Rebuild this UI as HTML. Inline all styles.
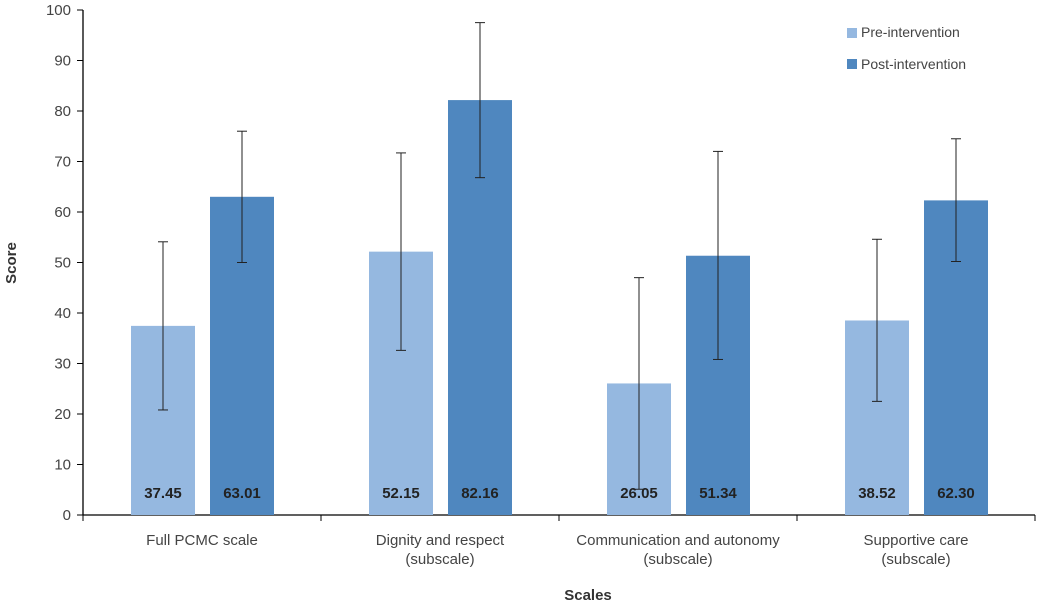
<!DOCTYPE html>
<html><head><meta charset="utf-8"><style>
body{margin:0;background:#fff;}
svg text{font-family:"Liberation Sans",sans-serif;}
</style></head><body>
<svg id="chart" width="1053" height="609" viewBox="0 0 1053 609">
<g id="axes"></g><g id="bars"></g>
<text x="588" y="600" font-size="15" font-weight="bold" fill="#333" text-anchor="middle">Scales</text>
<text transform="translate(16,263) rotate(-90)" font-size="15" font-weight="bold" fill="#333" text-anchor="middle">Score</text>
<g>
<rect x="847" y="28" width="10" height="10" fill="#95b8e0"/>
<text x="861" y="37" font-size="14" fill="#444">Pre-intervention</text>
<rect x="847" y="59" width="10" height="10" fill="#4f87bf"/>
<text x="861" y="69" font-size="14" fill="#444">Post-intervention</text>
</g>
</svg>
<script>
const categories=[["Full PCMC scale"],["Dignity and respect","(subscale)"],["Communication and autonomy","(subscale)"],["Supportive care","(subscale)"]];
const preValues=[37.45,52.15,26.05,38.52];
const postValues=[63.01,82.16,51.34,62.30];
const preLow=[20.8,32.6,5.1,22.5];
const preHigh=[54.1,71.7,47.0,54.6];
const postLow=[50.0,66.8,30.8,50.2];
const postHigh=[76.0,97.5,72.0,74.5];
const yTicks=[0,10,20,30,40,50,60,70,80,90,100];
const NS="http://www.w3.org/2000/svg";
const x0=83,x1=1035,y0=515,y1=10;
const catW=(x1-x0)/categories.length;
const y=v=>y0-(v/100)*(y0-y1);
function mk(tag,attrs,parent,txt){const e=document.createElementNS(NS,tag);for(const k in attrs)e.setAttribute(k,attrs[k]);if(txt!==undefined)e.textContent=txt;parent.appendChild(e);return e;}
const ax=document.getElementById('axes'),bg=document.getElementById('bars');
let e=mk('line',{x1:x0,y1:y1,x2:x0,y2:y0,stroke:'#000','stroke-width':1.3},ax);


e=mk('line',{x1:x0,y1:y0,x2:x1,y2:y0,stroke:'#000','stroke-width':1.3},ax);


yTicks.forEach(t=>{
 mk('line',{x1:x0-6,y1:y(t),x2:x0,y2:y(t),stroke:'#000'},ax);
 const l=mk('text',{x:x0-12,y:y(t)+5,'font-size':15,fill:'#444','text-anchor':'end'},ax,t);
 
 
});
for(let i=0;i<=categories.length;i++)mk('line',{x1:x0+i*catW,y1:y0,x2:x0+i*catW,y2:y0+6,stroke:'#000'},ax);
function bar(cx,v,lo,hi,fill,name){
 const r=mk('rect',{x:cx,y:y(v),width:64,height:y0-y(v),fill:fill},bg);
 
 
 const m=cx+32;
 const g=mk('g',{stroke:'#222','stroke-width':1},bg);
 
 
 mk('line',{x1:m,y1:y(lo),x2:m,y2:y(hi)},g);
 mk('line',{x1:m-5,y1:y(lo),x2:m+5,y2:y(lo)},g);
 mk('line',{x1:m-5,y1:y(hi),x2:m+5,y2:y(hi)},g);
 const t=mk('text',{x:m,y:y0-17,'font-size':15,'font-weight':'bold',fill:'#222','text-anchor':'middle'},bg,v.toFixed(2));
 
 
}
categories.forEach((c,i)=>{
 const cs=x0+i*catW;
 bar(cs+48,preValues[i],preLow[i],preHigh[i],'#95b8e0','bar-pre-'+i);
 bar(cs+127,postValues[i],postLow[i],postHigh[i],'#4f87bf','bar-post-'+i);
 c.forEach((line,j)=>{
  const t=mk('text',{x:cs+catW/2,y:545+j*19,'font-size':15,fill:'#444','text-anchor':'middle'},ax,line);
  
  
 });
});
</script>
</body></html>
